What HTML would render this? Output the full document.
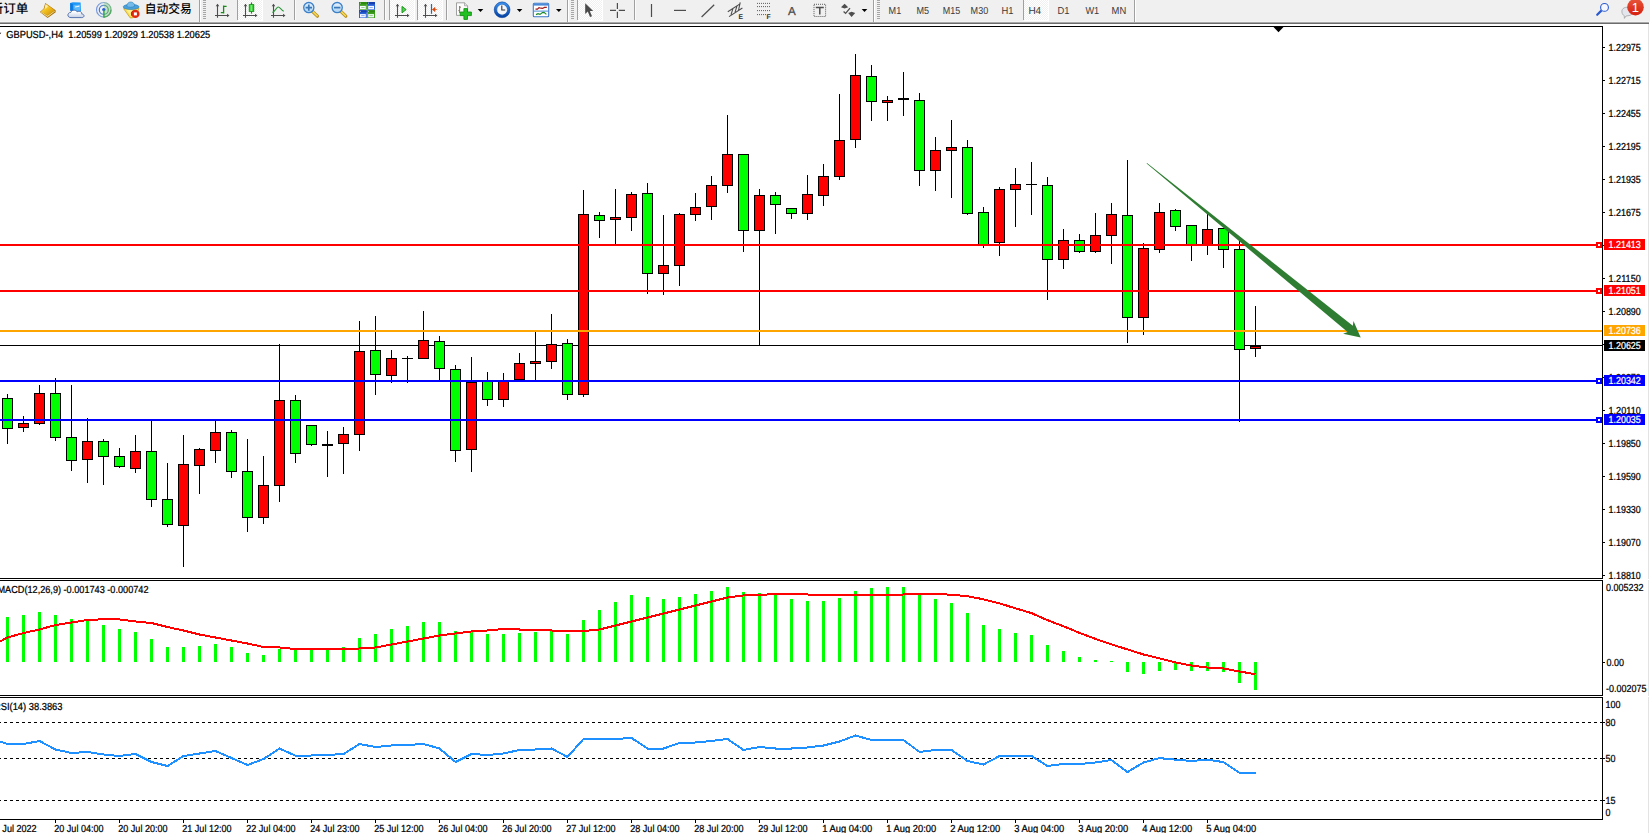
<!DOCTYPE html><html><head><meta charset="utf-8"><title>GBPUSD H4</title><style>html,body{margin:0;padding:0;background:#fff;overflow:hidden}svg text{white-space:pre}</style></head><body><svg width="1650" height="833" viewBox="0 0 1650 833" font-family="Liberation Sans, sans-serif" text-rendering="geometricPrecision" style="display:block">
<rect width="1650" height="833" fill="#fff"/>
<g shape-rendering="crispEdges">
<rect x="1648" y="24" width="1" height="809" fill="#e3e3e3"/>
<rect x="0" y="345" width="1602" height="1" fill="#000"/>
<rect x="7" y="394" width="1" height="50" fill="#000"/>
<rect x="2" y="398" width="11" height="31" fill="#000"/>
<rect x="3" y="399" width="9" height="29" fill="#00ff00"/>
<rect x="23" y="416" width="1" height="16" fill="#000"/>
<rect x="18" y="423" width="11" height="5" fill="#000"/>
<rect x="19" y="424" width="9" height="3" fill="#ff0000"/>
<rect x="39" y="385" width="1" height="40" fill="#000"/>
<rect x="34" y="393" width="11" height="31" fill="#000"/>
<rect x="35" y="394" width="9" height="29" fill="#ff0000"/>
<rect x="55" y="378" width="1" height="63" fill="#000"/>
<rect x="50" y="393" width="11" height="45" fill="#000"/>
<rect x="51" y="394" width="9" height="43" fill="#00ff00"/>
<rect x="71" y="385" width="1" height="86" fill="#000"/>
<rect x="66" y="437" width="11" height="24" fill="#000"/>
<rect x="67" y="438" width="9" height="22" fill="#00ff00"/>
<rect x="87" y="418" width="1" height="65" fill="#000"/>
<rect x="82" y="441" width="11" height="19" fill="#000"/>
<rect x="83" y="442" width="9" height="17" fill="#ff0000"/>
<rect x="103" y="439" width="1" height="46" fill="#000"/>
<rect x="98" y="441" width="11" height="16" fill="#000"/>
<rect x="99" y="442" width="9" height="14" fill="#00ff00"/>
<rect x="119" y="448" width="1" height="20" fill="#000"/>
<rect x="114" y="456" width="11" height="11" fill="#000"/>
<rect x="115" y="457" width="9" height="9" fill="#00ff00"/>
<rect x="135" y="435" width="1" height="38" fill="#000"/>
<rect x="130" y="451" width="11" height="18" fill="#000"/>
<rect x="131" y="452" width="9" height="16" fill="#ff0000"/>
<rect x="151" y="420" width="1" height="87" fill="#000"/>
<rect x="146" y="451" width="11" height="49" fill="#000"/>
<rect x="147" y="452" width="9" height="47" fill="#00ff00"/>
<rect x="167" y="463" width="1" height="64" fill="#000"/>
<rect x="162" y="499" width="11" height="26" fill="#000"/>
<rect x="163" y="500" width="9" height="24" fill="#00ff00"/>
<rect x="183" y="435" width="1" height="132" fill="#000"/>
<rect x="178" y="464" width="11" height="62" fill="#000"/>
<rect x="179" y="465" width="9" height="60" fill="#ff0000"/>
<rect x="199" y="448" width="1" height="46" fill="#000"/>
<rect x="194" y="449" width="11" height="17" fill="#000"/>
<rect x="195" y="450" width="9" height="15" fill="#ff0000"/>
<rect x="215" y="420" width="1" height="43" fill="#000"/>
<rect x="210" y="432" width="11" height="19" fill="#000"/>
<rect x="211" y="433" width="9" height="17" fill="#ff0000"/>
<rect x="231" y="430" width="1" height="48" fill="#000"/>
<rect x="226" y="432" width="11" height="40" fill="#000"/>
<rect x="227" y="433" width="9" height="38" fill="#00ff00"/>
<rect x="247" y="439" width="1" height="93" fill="#000"/>
<rect x="242" y="471" width="11" height="47" fill="#000"/>
<rect x="243" y="472" width="9" height="45" fill="#00ff00"/>
<rect x="263" y="456" width="1" height="68" fill="#000"/>
<rect x="258" y="485" width="11" height="33" fill="#000"/>
<rect x="259" y="486" width="9" height="31" fill="#ff0000"/>
<rect x="279" y="344" width="1" height="158" fill="#000"/>
<rect x="274" y="400" width="11" height="86" fill="#000"/>
<rect x="275" y="401" width="9" height="84" fill="#ff0000"/>
<rect x="295" y="395" width="1" height="68" fill="#000"/>
<rect x="290" y="400" width="11" height="54" fill="#000"/>
<rect x="291" y="401" width="9" height="52" fill="#00ff00"/>
<rect x="311" y="425" width="1" height="21" fill="#000"/>
<rect x="306" y="425" width="11" height="20" fill="#000"/>
<rect x="307" y="426" width="9" height="18" fill="#00ff00"/>
<rect x="327" y="431" width="1" height="46" fill="#000"/>
<rect x="322" y="444" width="11" height="2" fill="#000"/>
<rect x="343" y="427" width="1" height="47" fill="#000"/>
<rect x="338" y="434" width="11" height="10" fill="#000"/>
<rect x="339" y="435" width="9" height="8" fill="#ff0000"/>
<rect x="359" y="321" width="1" height="130" fill="#000"/>
<rect x="354" y="351" width="11" height="84" fill="#000"/>
<rect x="355" y="352" width="9" height="82" fill="#ff0000"/>
<rect x="375" y="316" width="1" height="79" fill="#000"/>
<rect x="370" y="350" width="11" height="25" fill="#000"/>
<rect x="371" y="351" width="9" height="23" fill="#00ff00"/>
<rect x="391" y="350" width="1" height="33" fill="#000"/>
<rect x="386" y="358" width="11" height="18" fill="#000"/>
<rect x="387" y="359" width="9" height="16" fill="#ff0000"/>
<rect x="407" y="356" width="1" height="27" fill="#000"/>
<rect x="402" y="358" width="11" height="1" fill="#000"/>
<rect x="423" y="311" width="1" height="48" fill="#000"/>
<rect x="418" y="340" width="11" height="19" fill="#000"/>
<rect x="419" y="341" width="9" height="17" fill="#ff0000"/>
<rect x="439" y="336" width="1" height="46" fill="#000"/>
<rect x="434" y="341" width="11" height="28" fill="#000"/>
<rect x="435" y="342" width="9" height="26" fill="#00ff00"/>
<rect x="455" y="365" width="1" height="97" fill="#000"/>
<rect x="450" y="369" width="11" height="82" fill="#000"/>
<rect x="451" y="370" width="9" height="80" fill="#00ff00"/>
<rect x="471" y="357" width="1" height="115" fill="#000"/>
<rect x="466" y="382" width="11" height="68" fill="#000"/>
<rect x="467" y="383" width="9" height="66" fill="#ff0000"/>
<rect x="487" y="372" width="1" height="34" fill="#000"/>
<rect x="482" y="381" width="11" height="19" fill="#000"/>
<rect x="483" y="382" width="9" height="17" fill="#00ff00"/>
<rect x="503" y="373" width="1" height="34" fill="#000"/>
<rect x="498" y="381" width="11" height="19" fill="#000"/>
<rect x="499" y="382" width="9" height="17" fill="#ff0000"/>
<rect x="519" y="353" width="1" height="27" fill="#000"/>
<rect x="514" y="363" width="11" height="17" fill="#000"/>
<rect x="515" y="364" width="9" height="15" fill="#ff0000"/>
<rect x="535" y="332" width="1" height="49" fill="#000"/>
<rect x="530" y="361" width="11" height="3" fill="#000"/>
<rect x="531" y="362" width="9" height="1" fill="#ff0000"/>
<rect x="551" y="314" width="1" height="55" fill="#000"/>
<rect x="546" y="344" width="11" height="18" fill="#000"/>
<rect x="547" y="345" width="9" height="16" fill="#ff0000"/>
<rect x="567" y="339" width="1" height="61" fill="#000"/>
<rect x="562" y="343" width="11" height="52" fill="#000"/>
<rect x="563" y="344" width="9" height="50" fill="#00ff00"/>
<rect x="583" y="190" width="1" height="207" fill="#000"/>
<rect x="578" y="214" width="11" height="181" fill="#000"/>
<rect x="579" y="215" width="9" height="179" fill="#ff0000"/>
<rect x="599" y="212" width="1" height="26" fill="#000"/>
<rect x="594" y="215" width="11" height="6" fill="#000"/>
<rect x="595" y="216" width="9" height="4" fill="#00ff00"/>
<rect x="615" y="189" width="1" height="55" fill="#000"/>
<rect x="610" y="217" width="11" height="3" fill="#000"/>
<rect x="611" y="218" width="9" height="1" fill="#ff0000"/>
<rect x="631" y="192" width="1" height="39" fill="#000"/>
<rect x="626" y="194" width="11" height="24" fill="#000"/>
<rect x="627" y="195" width="9" height="22" fill="#ff0000"/>
<rect x="647" y="183" width="1" height="111" fill="#000"/>
<rect x="642" y="193" width="11" height="81" fill="#000"/>
<rect x="643" y="194" width="9" height="79" fill="#00ff00"/>
<rect x="663" y="215" width="1" height="80" fill="#000"/>
<rect x="658" y="265" width="11" height="9" fill="#000"/>
<rect x="659" y="266" width="9" height="7" fill="#ff0000"/>
<rect x="679" y="213" width="1" height="73" fill="#000"/>
<rect x="674" y="214" width="11" height="52" fill="#000"/>
<rect x="675" y="215" width="9" height="50" fill="#ff0000"/>
<rect x="695" y="193" width="1" height="28" fill="#000"/>
<rect x="690" y="207" width="11" height="8" fill="#000"/>
<rect x="691" y="208" width="9" height="6" fill="#ff0000"/>
<rect x="711" y="176" width="1" height="44" fill="#000"/>
<rect x="706" y="185" width="11" height="22" fill="#000"/>
<rect x="707" y="186" width="9" height="20" fill="#ff0000"/>
<rect x="727" y="115" width="1" height="78" fill="#000"/>
<rect x="722" y="154" width="11" height="32" fill="#000"/>
<rect x="723" y="155" width="9" height="30" fill="#ff0000"/>
<rect x="743" y="154" width="1" height="98" fill="#000"/>
<rect x="738" y="154" width="11" height="77" fill="#000"/>
<rect x="739" y="155" width="9" height="75" fill="#00ff00"/>
<rect x="759" y="189" width="1" height="157" fill="#000"/>
<rect x="754" y="195" width="11" height="36" fill="#000"/>
<rect x="755" y="196" width="9" height="34" fill="#ff0000"/>
<rect x="775" y="192" width="1" height="42" fill="#000"/>
<rect x="770" y="195" width="11" height="10" fill="#000"/>
<rect x="771" y="196" width="9" height="8" fill="#00ff00"/>
<rect x="791" y="208" width="1" height="11" fill="#000"/>
<rect x="786" y="208" width="11" height="6" fill="#000"/>
<rect x="787" y="209" width="9" height="4" fill="#00ff00"/>
<rect x="807" y="175" width="1" height="45" fill="#000"/>
<rect x="802" y="194" width="11" height="20" fill="#000"/>
<rect x="803" y="195" width="9" height="18" fill="#ff0000"/>
<rect x="823" y="164" width="1" height="42" fill="#000"/>
<rect x="818" y="176" width="11" height="20" fill="#000"/>
<rect x="819" y="177" width="9" height="18" fill="#ff0000"/>
<rect x="839" y="94" width="1" height="86" fill="#000"/>
<rect x="834" y="140" width="11" height="37" fill="#000"/>
<rect x="835" y="141" width="9" height="35" fill="#ff0000"/>
<rect x="855" y="54" width="1" height="94" fill="#000"/>
<rect x="850" y="75" width="11" height="65" fill="#000"/>
<rect x="851" y="76" width="9" height="63" fill="#ff0000"/>
<rect x="871" y="65" width="1" height="56" fill="#000"/>
<rect x="866" y="76" width="11" height="26" fill="#000"/>
<rect x="867" y="77" width="9" height="24" fill="#00ff00"/>
<rect x="887" y="96" width="1" height="25" fill="#000"/>
<rect x="882" y="100" width="11" height="3" fill="#000"/>
<rect x="883" y="101" width="9" height="1" fill="#ff0000"/>
<rect x="903" y="72" width="1" height="44" fill="#000"/>
<rect x="898" y="98" width="11" height="2" fill="#000"/>
<rect x="919" y="93" width="1" height="93" fill="#000"/>
<rect x="914" y="100" width="11" height="71" fill="#000"/>
<rect x="915" y="101" width="9" height="69" fill="#00ff00"/>
<rect x="935" y="137" width="1" height="54" fill="#000"/>
<rect x="930" y="150" width="11" height="21" fill="#000"/>
<rect x="931" y="151" width="9" height="19" fill="#ff0000"/>
<rect x="951" y="120" width="1" height="78" fill="#000"/>
<rect x="946" y="147" width="11" height="4" fill="#000"/>
<rect x="947" y="148" width="9" height="2" fill="#ff0000"/>
<rect x="967" y="140" width="1" height="75" fill="#000"/>
<rect x="962" y="147" width="11" height="67" fill="#000"/>
<rect x="963" y="148" width="9" height="65" fill="#00ff00"/>
<rect x="983" y="207" width="1" height="41" fill="#000"/>
<rect x="978" y="212" width="11" height="34" fill="#000"/>
<rect x="979" y="213" width="9" height="32" fill="#00ff00"/>
<rect x="999" y="187" width="1" height="69" fill="#000"/>
<rect x="994" y="189" width="11" height="54" fill="#000"/>
<rect x="995" y="190" width="9" height="52" fill="#ff0000"/>
<rect x="1015" y="168" width="1" height="59" fill="#000"/>
<rect x="1010" y="184" width="11" height="6" fill="#000"/>
<rect x="1011" y="185" width="9" height="4" fill="#ff0000"/>
<rect x="1031" y="162" width="1" height="53" fill="#000"/>
<rect x="1026" y="184" width="11" height="1" fill="#000"/>
<rect x="1047" y="177" width="1" height="123" fill="#000"/>
<rect x="1042" y="185" width="11" height="75" fill="#000"/>
<rect x="1043" y="186" width="9" height="73" fill="#00ff00"/>
<rect x="1063" y="229" width="1" height="40" fill="#000"/>
<rect x="1058" y="240" width="11" height="20" fill="#000"/>
<rect x="1059" y="241" width="9" height="18" fill="#ff0000"/>
<rect x="1079" y="234" width="1" height="19" fill="#000"/>
<rect x="1074" y="240" width="11" height="12" fill="#000"/>
<rect x="1075" y="241" width="9" height="10" fill="#00ff00"/>
<rect x="1095" y="213" width="1" height="40" fill="#000"/>
<rect x="1090" y="235" width="11" height="17" fill="#000"/>
<rect x="1091" y="236" width="9" height="15" fill="#ff0000"/>
<rect x="1111" y="203" width="1" height="61" fill="#000"/>
<rect x="1106" y="214" width="11" height="22" fill="#000"/>
<rect x="1107" y="215" width="9" height="20" fill="#ff0000"/>
<rect x="1127" y="160" width="1" height="183" fill="#000"/>
<rect x="1122" y="215" width="11" height="103" fill="#000"/>
<rect x="1123" y="216" width="9" height="101" fill="#00ff00"/>
<rect x="1143" y="243" width="1" height="92" fill="#000"/>
<rect x="1138" y="248" width="11" height="70" fill="#000"/>
<rect x="1139" y="249" width="9" height="68" fill="#ff0000"/>
<rect x="1159" y="203" width="1" height="50" fill="#000"/>
<rect x="1154" y="212" width="11" height="38" fill="#000"/>
<rect x="1155" y="213" width="9" height="36" fill="#ff0000"/>
<rect x="1175" y="209" width="1" height="22" fill="#000"/>
<rect x="1170" y="210" width="11" height="17" fill="#000"/>
<rect x="1171" y="211" width="9" height="15" fill="#00ff00"/>
<rect x="1191" y="225" width="1" height="36" fill="#000"/>
<rect x="1186" y="225" width="11" height="21" fill="#000"/>
<rect x="1187" y="226" width="9" height="19" fill="#00ff00"/>
<rect x="1207" y="214" width="1" height="41" fill="#000"/>
<rect x="1202" y="229" width="11" height="17" fill="#000"/>
<rect x="1203" y="230" width="9" height="15" fill="#ff0000"/>
<rect x="1223" y="228" width="1" height="40" fill="#000"/>
<rect x="1218" y="228" width="11" height="22" fill="#000"/>
<rect x="1219" y="229" width="9" height="20" fill="#00ff00"/>
<rect x="1239" y="241" width="1" height="181" fill="#000"/>
<rect x="1234" y="249" width="11" height="101" fill="#000"/>
<rect x="1235" y="250" width="9" height="99" fill="#00ff00"/>
<rect x="1255" y="306" width="1" height="51" fill="#000"/>
<rect x="1250" y="346" width="11" height="3" fill="#000"/>
<rect x="1251" y="347" width="9" height="1" fill="#ff0000"/>
<rect x="0" y="244" width="1602" height="2" fill="#ff0000"/>
<rect x="1596" y="242" width="6" height="6" fill="#ff0000"/>
<rect x="1598" y="244" width="2" height="2" fill="#fff"/>
<rect x="0" y="290" width="1602" height="2" fill="#ff0000"/>
<rect x="1596" y="288" width="6" height="6" fill="#ff0000"/>
<rect x="1598" y="290" width="2" height="2" fill="#fff"/>
<rect x="0" y="330" width="1602" height="2" fill="#ffa500"/>
<rect x="0" y="380" width="1602" height="2" fill="#0000ff"/>
<rect x="1596" y="378" width="6" height="6" fill="#0000ff"/>
<rect x="1598" y="380" width="2" height="2" fill="#fff"/>
<rect x="0" y="419" width="1602" height="2" fill="#0000ff"/>
<rect x="1596" y="417" width="6" height="6" fill="#0000ff"/>
<rect x="1598" y="419" width="2" height="2" fill="#fff"/>
<rect x="0" y="26" width="1603" height="1" fill="#000"/>
<rect x="1602" y="26" width="1" height="794" fill="#000"/>
<rect x="0" y="578" width="1603" height="1" fill="#000"/>
<rect x="0" y="579" width="1650" height="1" fill="#fff"/>
<rect x="0" y="580" width="1603" height="1" fill="#000"/>
<rect x="0" y="695" width="1603" height="1" fill="#000"/>
<rect x="0" y="696" width="1650" height="1" fill="#fff"/>
<rect x="0" y="697" width="1603" height="1" fill="#000"/>
<rect x="0" y="819" width="1603" height="1" fill="#000"/>
</g>
<path d="M1273.5 27 L1283.5 27 L1278.5 32.3 Z" fill="#000"/>
<g shape-rendering="crispEdges">
<rect x="1603" y="47" width="2" height="1" fill="#000"/>
<rect x="1603" y="80" width="2" height="1" fill="#000"/>
<rect x="1603" y="113" width="2" height="1" fill="#000"/>
<rect x="1603" y="146" width="2" height="1" fill="#000"/>
<rect x="1603" y="179" width="2" height="1" fill="#000"/>
<rect x="1603" y="212" width="2" height="1" fill="#000"/>
<rect x="1603" y="245" width="2" height="1" fill="#000"/>
<rect x="1603" y="278" width="2" height="1" fill="#000"/>
<rect x="1603" y="311" width="2" height="1" fill="#000"/>
<rect x="1603" y="344" width="2" height="1" fill="#000"/>
<rect x="1603" y="377" width="2" height="1" fill="#000"/>
<rect x="1603" y="410" width="2" height="1" fill="#000"/>
<rect x="1603" y="443" width="2" height="1" fill="#000"/>
<rect x="1603" y="476" width="2" height="1" fill="#000"/>
<rect x="1603" y="509" width="2" height="1" fill="#000"/>
<rect x="1603" y="542" width="2" height="1" fill="#000"/>
<rect x="1603" y="575" width="2" height="1" fill="#000"/>
</g>
<text x="1608.5" y="51" font-size="10.2" fill="#000" stroke="#000" stroke-width="0.24" textLength="32.3" lengthAdjust="spacingAndGlyphs" >1.22975</text>
<text x="1608.5" y="84" font-size="10.2" fill="#000" stroke="#000" stroke-width="0.24" textLength="32.3" lengthAdjust="spacingAndGlyphs" >1.22715</text>
<text x="1608.5" y="117" font-size="10.2" fill="#000" stroke="#000" stroke-width="0.24" textLength="32.3" lengthAdjust="spacingAndGlyphs" >1.22455</text>
<text x="1608.5" y="150" font-size="10.2" fill="#000" stroke="#000" stroke-width="0.24" textLength="32.3" lengthAdjust="spacingAndGlyphs" >1.22195</text>
<text x="1608.5" y="183" font-size="10.2" fill="#000" stroke="#000" stroke-width="0.24" textLength="32.3" lengthAdjust="spacingAndGlyphs" >1.21935</text>
<text x="1608.5" y="216" font-size="10.2" fill="#000" stroke="#000" stroke-width="0.24" textLength="32.3" lengthAdjust="spacingAndGlyphs" >1.21675</text>
<text x="1608.5" y="249" font-size="10.2" fill="#000" stroke="#000" stroke-width="0.24" textLength="32.3" lengthAdjust="spacingAndGlyphs" >1.21415</text>
<text x="1608.5" y="282" font-size="10.2" fill="#000" stroke="#000" stroke-width="0.24" textLength="32.3" lengthAdjust="spacingAndGlyphs" >1.21150</text>
<text x="1608.5" y="315" font-size="10.2" fill="#000" stroke="#000" stroke-width="0.24" textLength="32.3" lengthAdjust="spacingAndGlyphs" >1.20890</text>
<text x="1608.5" y="348" font-size="10.2" fill="#000" stroke="#000" stroke-width="0.24" textLength="32.3" lengthAdjust="spacingAndGlyphs" >1.20630</text>
<text x="1608.5" y="381" font-size="10.2" fill="#000" stroke="#000" stroke-width="0.24" textLength="32.3" lengthAdjust="spacingAndGlyphs" >1.20370</text>
<text x="1608.5" y="414" font-size="10.2" fill="#000" stroke="#000" stroke-width="0.24" textLength="32.3" lengthAdjust="spacingAndGlyphs" >1.20110</text>
<text x="1608.5" y="447" font-size="10.2" fill="#000" stroke="#000" stroke-width="0.24" textLength="32.3" lengthAdjust="spacingAndGlyphs" >1.19850</text>
<text x="1608.5" y="480" font-size="10.2" fill="#000" stroke="#000" stroke-width="0.24" textLength="32.3" lengthAdjust="spacingAndGlyphs" >1.19590</text>
<text x="1608.5" y="513" font-size="10.2" fill="#000" stroke="#000" stroke-width="0.24" textLength="32.3" lengthAdjust="spacingAndGlyphs" >1.19330</text>
<text x="1608.5" y="546" font-size="10.2" fill="#000" stroke="#000" stroke-width="0.24" textLength="32.3" lengthAdjust="spacingAndGlyphs" >1.19070</text>
<text x="1608.5" y="579" font-size="10.2" fill="#000" stroke="#000" stroke-width="0.24" textLength="32.3" lengthAdjust="spacingAndGlyphs" >1.18810</text>
<rect x="1604" y="239" width="41" height="11" fill="#ff0000" shape-rendering="crispEdges"/>
<text x="1608.5" y="248" font-size="10.2" fill="#fff" stroke="#fff" stroke-width="0.24" textLength="32.3" lengthAdjust="spacingAndGlyphs" >1.21413</text>
<rect x="1604" y="285" width="41" height="11" fill="#ff0000" shape-rendering="crispEdges"/>
<text x="1608.5" y="294" font-size="10.2" fill="#fff" stroke="#fff" stroke-width="0.24" textLength="32.3" lengthAdjust="spacingAndGlyphs" >1.21051</text>
<rect x="1604" y="325" width="41" height="11" fill="#ffa500" shape-rendering="crispEdges"/>
<text x="1608.5" y="334" font-size="10.2" fill="#fff" stroke="#fff" stroke-width="0.24" textLength="32.3" lengthAdjust="spacingAndGlyphs" >1.20736</text>
<rect x="1604" y="340" width="41" height="11" fill="#000000" shape-rendering="crispEdges"/>
<text x="1608.5" y="349" font-size="10.2" fill="#fff" stroke="#fff" stroke-width="0.24" textLength="32.3" lengthAdjust="spacingAndGlyphs" >1.20625</text>
<rect x="1604" y="375" width="41" height="11" fill="#0000ff" shape-rendering="crispEdges"/>
<text x="1608.5" y="384" font-size="10.2" fill="#fff" stroke="#fff" stroke-width="0.24" textLength="32.3" lengthAdjust="spacingAndGlyphs" >1.20342</text>
<rect x="1604" y="414" width="41" height="11" fill="#0000ff" shape-rendering="crispEdges"/>
<text x="1608.5" y="423" font-size="10.2" fill="#fff" stroke="#fff" stroke-width="0.24" textLength="32.3" lengthAdjust="spacingAndGlyphs" >1.20035</text>
<text x="6.3" y="37.5" font-size="10.2" fill="#000" stroke="#000" stroke-width="0.24" textLength="204" lengthAdjust="spacingAndGlyphs" xml:space="preserve">GBPUSD-,H4&#160;&#160;1.20599 1.20929 1.20538 1.20625</text>
<path d="M-2 32.7 L1.3 32.7 L-0.3 34.6 Z" fill="#000"/>
<g shape-rendering="crispEdges">
<rect x="6" y="617" width="3" height="45" fill="#00ff00"/>
<rect x="22" y="615" width="3" height="47" fill="#00ff00"/>
<rect x="38" y="612" width="3" height="50" fill="#00ff00"/>
<rect x="54" y="615" width="3" height="47" fill="#00ff00"/>
<rect x="70" y="619" width="3" height="43" fill="#00ff00"/>
<rect x="86" y="621" width="3" height="41" fill="#00ff00"/>
<rect x="102" y="625" width="3" height="37" fill="#00ff00"/>
<rect x="118" y="629" width="3" height="33" fill="#00ff00"/>
<rect x="134" y="632" width="3" height="30" fill="#00ff00"/>
<rect x="150" y="639" width="3" height="23" fill="#00ff00"/>
<rect x="166" y="647" width="3" height="15" fill="#00ff00"/>
<rect x="182" y="647" width="3" height="15" fill="#00ff00"/>
<rect x="198" y="646" width="3" height="16" fill="#00ff00"/>
<rect x="214" y="644" width="3" height="18" fill="#00ff00"/>
<rect x="230" y="647" width="3" height="15" fill="#00ff00"/>
<rect x="246" y="653" width="3" height="9" fill="#00ff00"/>
<rect x="262" y="655" width="3" height="7" fill="#00ff00"/>
<rect x="278" y="649" width="3" height="13" fill="#00ff00"/>
<rect x="294" y="650" width="3" height="12" fill="#00ff00"/>
<rect x="310" y="650" width="3" height="12" fill="#00ff00"/>
<rect x="326" y="650" width="3" height="12" fill="#00ff00"/>
<rect x="342" y="647" width="3" height="15" fill="#00ff00"/>
<rect x="358" y="638" width="3" height="24" fill="#00ff00"/>
<rect x="374" y="634" width="3" height="28" fill="#00ff00"/>
<rect x="390" y="629" width="3" height="33" fill="#00ff00"/>
<rect x="406" y="626" width="3" height="36" fill="#00ff00"/>
<rect x="422" y="622" width="3" height="40" fill="#00ff00"/>
<rect x="438" y="622" width="3" height="40" fill="#00ff00"/>
<rect x="454" y="631" width="3" height="31" fill="#00ff00"/>
<rect x="470" y="632" width="3" height="30" fill="#00ff00"/>
<rect x="486" y="634" width="3" height="28" fill="#00ff00"/>
<rect x="502" y="634" width="3" height="28" fill="#00ff00"/>
<rect x="518" y="633" width="3" height="29" fill="#00ff00"/>
<rect x="534" y="632" width="3" height="30" fill="#00ff00"/>
<rect x="550" y="631" width="3" height="31" fill="#00ff00"/>
<rect x="566" y="634" width="3" height="28" fill="#00ff00"/>
<rect x="582" y="620" width="3" height="42" fill="#00ff00"/>
<rect x="598" y="610" width="3" height="52" fill="#00ff00"/>
<rect x="614" y="602" width="3" height="60" fill="#00ff00"/>
<rect x="630" y="595" width="3" height="67" fill="#00ff00"/>
<rect x="646" y="597" width="3" height="65" fill="#00ff00"/>
<rect x="662" y="599" width="3" height="63" fill="#00ff00"/>
<rect x="678" y="597" width="3" height="65" fill="#00ff00"/>
<rect x="694" y="594" width="3" height="68" fill="#00ff00"/>
<rect x="710" y="591" width="3" height="71" fill="#00ff00"/>
<rect x="726" y="587" width="3" height="75" fill="#00ff00"/>
<rect x="742" y="592" width="3" height="70" fill="#00ff00"/>
<rect x="758" y="593" width="3" height="69" fill="#00ff00"/>
<rect x="774" y="595" width="3" height="67" fill="#00ff00"/>
<rect x="790" y="599" width="3" height="63" fill="#00ff00"/>
<rect x="806" y="601" width="3" height="61" fill="#00ff00"/>
<rect x="822" y="601" width="3" height="61" fill="#00ff00"/>
<rect x="838" y="598" width="3" height="64" fill="#00ff00"/>
<rect x="854" y="591" width="3" height="71" fill="#00ff00"/>
<rect x="870" y="588" width="3" height="74" fill="#00ff00"/>
<rect x="886" y="587" width="3" height="75" fill="#00ff00"/>
<rect x="902" y="587" width="3" height="75" fill="#00ff00"/>
<rect x="918" y="595" width="3" height="67" fill="#00ff00"/>
<rect x="934" y="599" width="3" height="63" fill="#00ff00"/>
<rect x="950" y="603" width="3" height="59" fill="#00ff00"/>
<rect x="966" y="613" width="3" height="49" fill="#00ff00"/>
<rect x="982" y="625" width="3" height="37" fill="#00ff00"/>
<rect x="998" y="629" width="3" height="33" fill="#00ff00"/>
<rect x="1014" y="633" width="3" height="29" fill="#00ff00"/>
<rect x="1030" y="635" width="3" height="27" fill="#00ff00"/>
<rect x="1046" y="645" width="3" height="17" fill="#00ff00"/>
<rect x="1062" y="651" width="3" height="11" fill="#00ff00"/>
<rect x="1078" y="657" width="3" height="5" fill="#00ff00"/>
<rect x="1094" y="660" width="3" height="2" fill="#00ff00"/>
<rect x="1110" y="661" width="3" height="1" fill="#00ff00"/>
<rect x="1126" y="662" width="3" height="10" fill="#00ff00"/>
<rect x="1142" y="662" width="3" height="12" fill="#00ff00"/>
<rect x="1158" y="662" width="3" height="9" fill="#00ff00"/>
<rect x="1174" y="662" width="3" height="8" fill="#00ff00"/>
<rect x="1190" y="662" width="3" height="9" fill="#00ff00"/>
<rect x="1206" y="662" width="3" height="9" fill="#00ff00"/>
<rect x="1222" y="662" width="3" height="10" fill="#00ff00"/>
<rect x="1238" y="662" width="3" height="21" fill="#00ff00"/>
<rect x="1254" y="662" width="3" height="28" fill="#00ff00"/>
<polyline points="-8.5,645 0.5,641.25 7.5,637.5 23.5,633 39.5,629.5 55.5,625 71.5,622.5 87.5,620 103.5,619.25 119.5,619.5 135.5,621.5 151.5,623 167.5,627 183.5,630.5 199.5,634.5 215.5,637.5 231.5,640.5 247.5,643.5 263.5,647 279.5,647.5 295.5,649 311.5,649 327.5,649 343.5,649 359.5,648.5 375.5,647.5 391.5,644.5 407.5,641.5 423.5,638.5 439.5,635.5 455.5,633.5 471.5,631.5 487.5,630.5 503.5,629 519.5,629.5 535.5,629.5 551.5,630.5 567.5,631 583.5,631 599.5,629.5 615.5,625.5 631.5,621.5 647.5,617.5 663.5,613.5 679.5,609.5 695.5,605.5 711.5,601.5 727.5,597.5 743.5,595.5 759.5,595 775.5,594 791.5,594 807.5,594.5 823.5,595 839.5,595 855.5,595 871.5,595 887.5,595 903.5,594.5 919.5,594 935.5,594 951.5,594.7 967.5,596.2 983.5,599.3 999.5,603.4 1015.5,608.3 1031.5,613.1 1047.5,620.2 1063.5,626.2 1079.5,632.9 1095.5,638.9 1111.5,644.4 1127.5,649.4 1143.5,654.5 1159.5,658.4 1175.5,662.4 1191.5,665.5 1207.5,667.6 1223.5,668.5 1239.5,671.5 1255.5,674.2" fill="none" stroke="#ff0000" stroke-width="2"/>
<rect x="1603" y="662" width="2" height="1" fill="#000"/>
</g>
<text x="-2.5" y="593" font-size="10.2" fill="#000" stroke="#000" stroke-width="0.24" textLength="151" lengthAdjust="spacingAndGlyphs" >MACD(12,26,9) -0.001743 -0.000742</text>
<text x="1606" y="591.2" font-size="10.2" fill="#000" stroke="#000" stroke-width="0.24" textLength="37.5" lengthAdjust="spacingAndGlyphs" >0.005232</text>
<text x="1606.4" y="666" font-size="10.2" fill="#000" stroke="#000" stroke-width="0.24" textLength="17.5" lengthAdjust="spacingAndGlyphs" >0.00</text>
<text x="1606" y="692" font-size="10.2" fill="#000" stroke="#000" stroke-width="0.24" textLength="40.5" lengthAdjust="spacingAndGlyphs" >-0.002075</text>
<g shape-rendering="crispEdges">
<line x1="-2" y1="722.5" x2="1602" y2="722.5" stroke="#000" stroke-width="1" stroke-dasharray="3 3"/>
<line x1="-2" y1="758.5" x2="1602" y2="758.5" stroke="#000" stroke-width="1" stroke-dasharray="3 3"/>
<line x1="-2" y1="800.5" x2="1602" y2="800.5" stroke="#000" stroke-width="1" stroke-dasharray="3 3"/>
<polyline points="-8.5,739 7.5,744 23.5,744 39.5,741 55.5,749.5 71.5,753 87.5,752 103.5,754.5 119.5,756 135.5,754 151.5,762 167.5,766 183.5,756 199.5,753.5 215.5,751 231.5,758 247.5,765 263.5,759 279.5,748.5 295.5,755.75 311.5,755.5 327.5,755 343.5,754 359.5,744 375.5,747 391.5,745.5 407.5,745 423.5,744 439.5,748.5 455.5,762 471.5,754 487.5,755 503.5,753.5 519.5,750 535.5,749.5 551.5,748.5 567.5,757 583.5,739 599.5,739 615.5,739 631.5,738 647.5,748.5 663.5,748.5 679.5,743 695.5,742.5 711.5,741 727.5,739 743.5,750 759.5,747 775.5,748.5 791.5,748.5 807.5,747.5 823.5,745.5 839.5,741.5 855.5,735.5 871.5,740 887.5,740 903.5,740 919.5,752 935.5,750 951.5,750 967.5,761 983.5,764.5 999.5,756 1015.5,756 1031.5,756 1047.5,766 1063.5,764 1079.5,764 1095.5,762.5 1111.5,760 1127.5,772 1143.5,762.5 1159.5,758.1 1175.5,759.7 1191.5,760.9 1207.5,759.7 1223.5,762.1 1239.5,772.8 1255.5,772.8" fill="none" stroke="#1e90ff" stroke-width="2"/>
<rect x="1603" y="722" width="2" height="1" fill="#000"/>
<rect x="1603" y="758" width="2" height="1" fill="#000"/>
<rect x="1603" y="800" width="2" height="1" fill="#000"/>
</g>
<text x="-6" y="710" font-size="10.2" fill="#000" stroke="#000" stroke-width="0.24" textLength="68.5" lengthAdjust="spacingAndGlyphs" >RSI(14) 38.3863</text>
<text x="1605.5" y="708" font-size="10.2" fill="#000" stroke="#000" stroke-width="0.24" textLength="15" lengthAdjust="spacingAndGlyphs" >100</text>
<text x="1605.5" y="726" font-size="10.2" fill="#000" stroke="#000" stroke-width="0.24" textLength="10" lengthAdjust="spacingAndGlyphs" >80</text>
<text x="1605.5" y="762" font-size="10.2" fill="#000" stroke="#000" stroke-width="0.24" textLength="10" lengthAdjust="spacingAndGlyphs" >50</text>
<text x="1605.5" y="804" font-size="10.2" fill="#000" stroke="#000" stroke-width="0.24" textLength="10" lengthAdjust="spacingAndGlyphs" >15</text>
<text x="1605.5" y="816" font-size="10.2" fill="#000" stroke="#000" stroke-width="0.24" textLength="5" lengthAdjust="spacingAndGlyphs" >0</text>
<g shape-rendering="crispEdges">
<rect x="-9" y="820" width="1" height="3" fill="#000"/>
<rect x="55" y="820" width="1" height="3" fill="#000"/>
<rect x="119" y="820" width="1" height="3" fill="#000"/>
<rect x="183" y="820" width="1" height="3" fill="#000"/>
<rect x="247" y="820" width="1" height="3" fill="#000"/>
<rect x="311" y="820" width="1" height="3" fill="#000"/>
<rect x="375" y="820" width="1" height="3" fill="#000"/>
<rect x="439" y="820" width="1" height="3" fill="#000"/>
<rect x="503" y="820" width="1" height="3" fill="#000"/>
<rect x="567" y="820" width="1" height="3" fill="#000"/>
<rect x="631" y="820" width="1" height="3" fill="#000"/>
<rect x="695" y="820" width="1" height="3" fill="#000"/>
<rect x="759" y="820" width="1" height="3" fill="#000"/>
<rect x="823" y="820" width="1" height="3" fill="#000"/>
<rect x="887" y="820" width="1" height="3" fill="#000"/>
<rect x="951" y="820" width="1" height="3" fill="#000"/>
<rect x="1015" y="820" width="1" height="3" fill="#000"/>
<rect x="1079" y="820" width="1" height="3" fill="#000"/>
<rect x="1143" y="820" width="1" height="3" fill="#000"/>
<rect x="1207" y="820" width="1" height="3" fill="#000"/>
</g>
<text x="-10.2" y="832" font-size="10.2" fill="#000" stroke="#000" stroke-width="0.24" textLength="46.7" lengthAdjust="spacingAndGlyphs" >19 Jul 2022</text>
<text x="54.3" y="832" font-size="10.2" fill="#000" stroke="#000" stroke-width="0.24" textLength="49.2" lengthAdjust="spacingAndGlyphs" >20 Jul 04:00</text>
<text x="118.3" y="832" font-size="10.2" fill="#000" stroke="#000" stroke-width="0.24" textLength="49.2" lengthAdjust="spacingAndGlyphs" >20 Jul 20:00</text>
<text x="182.3" y="832" font-size="10.2" fill="#000" stroke="#000" stroke-width="0.24" textLength="49.2" lengthAdjust="spacingAndGlyphs" >21 Jul 12:00</text>
<text x="246.3" y="832" font-size="10.2" fill="#000" stroke="#000" stroke-width="0.24" textLength="49.2" lengthAdjust="spacingAndGlyphs" >22 Jul 04:00</text>
<text x="310.3" y="832" font-size="10.2" fill="#000" stroke="#000" stroke-width="0.24" textLength="49.2" lengthAdjust="spacingAndGlyphs" >24 Jul 23:00</text>
<text x="374.3" y="832" font-size="10.2" fill="#000" stroke="#000" stroke-width="0.24" textLength="49.2" lengthAdjust="spacingAndGlyphs" >25 Jul 12:00</text>
<text x="438.3" y="832" font-size="10.2" fill="#000" stroke="#000" stroke-width="0.24" textLength="49.2" lengthAdjust="spacingAndGlyphs" >26 Jul 04:00</text>
<text x="502.3" y="832" font-size="10.2" fill="#000" stroke="#000" stroke-width="0.24" textLength="49.2" lengthAdjust="spacingAndGlyphs" >26 Jul 20:00</text>
<text x="566.3" y="832" font-size="10.2" fill="#000" stroke="#000" stroke-width="0.24" textLength="49.2" lengthAdjust="spacingAndGlyphs" >27 Jul 12:00</text>
<text x="630.3" y="832" font-size="10.2" fill="#000" stroke="#000" stroke-width="0.24" textLength="49.2" lengthAdjust="spacingAndGlyphs" >28 Jul 04:00</text>
<text x="694.3" y="832" font-size="10.2" fill="#000" stroke="#000" stroke-width="0.24" textLength="49.2" lengthAdjust="spacingAndGlyphs" >28 Jul 20:00</text>
<text x="758.3" y="832" font-size="10.2" fill="#000" stroke="#000" stroke-width="0.24" textLength="49.2" lengthAdjust="spacingAndGlyphs" >29 Jul 12:00</text>
<text x="822.3" y="832" font-size="10.2" fill="#000" stroke="#000" stroke-width="0.24" textLength="50" lengthAdjust="spacingAndGlyphs" >1 Aug 04:00</text>
<text x="886.3" y="832" font-size="10.2" fill="#000" stroke="#000" stroke-width="0.24" textLength="50" lengthAdjust="spacingAndGlyphs" >1 Aug 20:00</text>
<text x="950.3" y="832" font-size="10.2" fill="#000" stroke="#000" stroke-width="0.24" textLength="50" lengthAdjust="spacingAndGlyphs" >2 Aug 12:00</text>
<text x="1014.3" y="832" font-size="10.2" fill="#000" stroke="#000" stroke-width="0.24" textLength="50" lengthAdjust="spacingAndGlyphs" >3 Aug 04:00</text>
<text x="1078.3" y="832" font-size="10.2" fill="#000" stroke="#000" stroke-width="0.24" textLength="50" lengthAdjust="spacingAndGlyphs" >3 Aug 20:00</text>
<text x="1142.3" y="832" font-size="10.2" fill="#000" stroke="#000" stroke-width="0.24" textLength="50" lengthAdjust="spacingAndGlyphs" >4 Aug 12:00</text>
<text x="1206.3" y="832" font-size="10.2" fill="#000" stroke="#000" stroke-width="0.24" textLength="50" lengthAdjust="spacingAndGlyphs" >5 Aug 04:00</text>
<polygon points="1147.0,163.0 1352.8,325.7 1353.5,320.9 1360.7,337.4 1343.1,333.7 1347.6,332.1 1146.6,163.4" fill="#2f7d32"/>
<g id="toolbar">
<rect x="0" y="0" width="1650" height="22" fill="#f0f0f0"/>
<rect x="0" y="21" width="1650" height="1" fill="#f4f4f4"/>
<rect x="0" y="22" width="1649" height="1" fill="#a8a8a8"/>
<rect x="0" y="23" width="1649" height="1" fill="#6c6c6c"/>
<defs>
<linearGradient id="gold" x1="0" y1="0" x2="1" y2="1"><stop offset="0" stop-color="#fff0a0"/><stop offset="0.45" stop-color="#f2c01e"/><stop offset="1" stop-color="#c8860a"/></linearGradient>
<linearGradient id="blu" x1="0" y1="0" x2="0" y2="1"><stop offset="0" stop-color="#5ab0f0"/><stop offset="1" stop-color="#1060c8"/></linearGradient>
<linearGradient id="lens" x1="0" y1="0" x2="0" y2="1"><stop offset="0" stop-color="#e8f4ff"/><stop offset="1" stop-color="#a8d0f0"/></linearGradient>
<linearGradient id="grn" x1="0" y1="0" x2="1" y2="0"><stop offset="0" stop-color="#20c020"/><stop offset="0.5" stop-color="#70f070"/><stop offset="1" stop-color="#10a010"/></linearGradient>
<linearGradient id="redb" x1="0" y1="0" x2="0" y2="1"><stop offset="0" stop-color="#e8553a"/><stop offset="1" stop-color="#d61f10"/></linearGradient>
<pattern id="chk" width="2" height="2" patternUnits="userSpaceOnUse"><rect width="2" height="2" fill="#f0f0f0"/><rect width="1" height="1" fill="#fff"/><rect x="1" y="1" width="1" height="1" fill="#fff"/></pattern>
<linearGradient id="blu2" x1="0" y1="0" x2="0" y2="1"><stop offset="0" stop-color="#3a8ce8"/><stop offset="1" stop-color="#0646a8"/></linearGradient>
</defs>
<text x="-9.4" y="13.1" font-size="12.6" font-weight="500" font-family="Liberation Sans, Noto Sans CJK SC, sans-serif" fill="#000">新订单</text>
<path d="M45.3 3 L55.6 10.2 L55.7 12.2 L47.6 18 L39.9 11.9 L43.6 8.8 Z" fill="#a8700c"/>
<path d="M45.6 3.8 L54.8 10.3 L47.5 15.6 L41 11.4 L44.4 8.6 Z" fill="url(#gold)"/>
<path d="M41 11.6 L47.5 15.8 L54.6 10.8 L54.8 11.6 L47.6 16.9 L40.8 12.2 Z" fill="#f6e08a"/>
<path d="M45.7 4.6 L48 6.2 L46 8.6 L44.6 8.4 Z" fill="#fff6c0" opacity="0.8"/>
<linearGradient id="cld" x1="0" y1="0" x2="0" y2="1"><stop offset="0.2" stop-color="#ffffff"/><stop offset="1" stop-color="#c4d0e6"/></linearGradient>
<path d="M70.2 3 L72.8 2.2 L80.6 2.6 L81 11.5 L72.6 12 L70.2 10.4 Z" fill="#1c98f6"/>
<path d="M70.2 3 L72.8 4 L72.8 12 L70.2 10.4 Z" fill="#0a78e0"/>
<path d="M73.6 5 L80.2 4.6 L80.2 10.8 L73.6 11 Z" fill="#58b8fa"/>
<path d="M75 6.4 L79.4 5.6 L79.4 6.8 L75 7.6 Z" fill="#e8f4ff"/>
<path d="M71 17.6 C66.8 17.6 67 12.6 70.8 12.4 C71.4 9.6 76.2 9.4 77.2 11.8 C79.6 10.4 82.4 12.2 81.6 14 C84.8 14 84.8 17.6 81.8 17.6 Z" fill="url(#cld)" stroke="#4a68a8" stroke-width="0.9"/>
<linearGradient id="sig" x1="0" y1="0" x2="1" y2="0"><stop offset="0" stop-color="#4a74d8"/><stop offset="0.5" stop-color="#6a98c8"/><stop offset="1" stop-color="#4ea860"/></linearGradient>
<circle cx="103.8" cy="9.8" r="7.3" fill="#e8eef4" stroke="url(#sig)" stroke-width="1.1" opacity="0.75"/>
<circle cx="103.8" cy="9.8" r="4.5" fill="#eef2f8" stroke="url(#sig)" stroke-width="1.2"/>
<path d="M103.8 9.8 L103.8 2.5 A7.3 7.3 0 0 1 103.8 17.1 Z" fill="#58b060" opacity="0.28"/>
<path d="M104 17.2 A7.3 7.3 0 0 0 111 9.8" fill="none" stroke="#5aa868" stroke-width="1.3"/>
<circle cx="103.8" cy="9.6" r="1.7" fill="#2a5fd0"/>
<rect x="103.2" y="10.2" width="1.4" height="7.4" fill="#28a838"/>
<path d="M123.6 8.6 L139 8.4 L137.6 12 L132.6 17.9 L130.2 17.9 Z" fill="#f8de58" stroke="#c49614" stroke-width="0.7"/>
<path d="M126.5 10 L133 10 L131.6 16.8 Z" fill="#fff59a" opacity="0.8"/>
<ellipse cx="131.1" cy="6.9" rx="7.9" ry="2.6" fill="#4aa0dc" stroke="#2a82b8" stroke-width="0.6"/>
<path d="M126.8 6.4 C126.6 0.6 134.8 0.6 134.6 6.2 C132.4 7.6 128.8 7.6 126.8 6.4 Z" fill="#74baea" stroke="#2a82b8" stroke-width="0.6"/>
<circle cx="135.4" cy="13.9" r="4.2" fill="#e22a10"/>
<path d="M131.6 15.6 A4.2 4.2 0 0 1 133 10.6" fill="none" stroke="#b01c08" stroke-width="0.9"/>
<rect x="133.9" y="12.4" width="3" height="3" fill="#fff"/>
<text x="144.8" y="13.3" font-size="12.2" font-weight="500" textLength="47" lengthAdjust="spacingAndGlyphs" font-family="Liberation Sans, Noto Sans CJK SC, sans-serif" fill="#000">自动交易</text>
<rect x="199" y="0" width="1" height="22" fill="#a0a0a0" shape-rendering="crispEdges"/>
<rect x="200" y="0" width="1" height="22" fill="#fff" shape-rendering="crispEdges"/>
<rect x="203" y="0" width="3" height="1" fill="#a6a6a6" shape-rendering="crispEdges"/>
<rect x="203" y="2" width="3" height="1" fill="#a6a6a6" shape-rendering="crispEdges"/>
<rect x="203" y="4" width="3" height="1" fill="#a6a6a6" shape-rendering="crispEdges"/>
<rect x="203" y="6" width="3" height="1" fill="#a6a6a6" shape-rendering="crispEdges"/>
<rect x="203" y="8" width="3" height="1" fill="#a6a6a6" shape-rendering="crispEdges"/>
<rect x="203" y="10" width="3" height="1" fill="#a6a6a6" shape-rendering="crispEdges"/>
<rect x="203" y="12" width="3" height="1" fill="#a6a6a6" shape-rendering="crispEdges"/>
<rect x="203" y="14" width="3" height="1" fill="#a6a6a6" shape-rendering="crispEdges"/>
<rect x="203" y="16" width="3" height="1" fill="#a6a6a6" shape-rendering="crispEdges"/>
<rect x="203" y="18" width="3" height="1" fill="#a6a6a6" shape-rendering="crispEdges"/>
<path d="M217.5 4.5 V17.8 M215.0 15.5 H228.5" stroke="#4d4d4d" stroke-width="1.1" fill="none"/>
<path d="M215.7 6.2 L217.5 3.7 L219.3 6.2 Z M227.0 13.8 L229.5 15.5 L227.0 17.2 Z" fill="#4d4d4d"/>
<path d="M223.6 5.6 V13.4 M223.6 6.3 H226.6 M223.6 12.6 H220.8" stroke="#1a8a1a" stroke-width="1.3" fill="none"/>
<rect x="237" y="0" width="25" height="20" fill="url(#chk)" shape-rendering="crispEdges"/>
<rect x="237" y="0" width="1" height="20" fill="#a0a0a0" shape-rendering="crispEdges"/>
<rect x="238" y="20" width="25" height="1" fill="#fff" shape-rendering="crispEdges"/>
<rect x="262" y="0" width="1" height="20" fill="#fff" shape-rendering="crispEdges"/>
<path d="M245.5 4.5 V17.8 M243.0 15.5 H256.5" stroke="#4d4d4d" stroke-width="1.1" fill="none"/>
<path d="M243.7 6.2 L245.5 3.7 L247.3 6.2 Z M255.0 13.8 L257.5 15.5 L255.0 17.2 Z" fill="#4d4d4d"/>
<path d="M251.5 2.4 V13.6" stroke="#109010" stroke-width="1.2"/>
<rect x="249.2" y="4.6" width="4.6" height="6.8" fill="url(#grn)" stroke="#109010" stroke-width="0.8"/>
<path d="M273.5 4.5 V17.8 M271.0 15.5 H284.5" stroke="#4d4d4d" stroke-width="1.1" fill="none"/>
<path d="M271.7 6.2 L273.5 3.7 L275.3 6.2 Z M283.0 13.8 L285.5 15.5 L283.0 17.2 Z" fill="#4d4d4d"/>
<path d="M272.4 12.6 C275.5 11 276.5 7 278.3 7 C280 7 281.5 10.4 283.8 11.2" stroke="#2c9a3c" stroke-width="1.1" fill="none"/>
<rect x="294" y="0" width="1" height="20" fill="#a0a0a0" shape-rendering="crispEdges"/>
<rect x="295" y="0" width="1" height="20" fill="#fbfbfb" shape-rendering="crispEdges"/>
<path d="M312.40000000000003 11.4 L317.40000000000003 16.2" stroke="#b88a18" stroke-width="3.2" stroke-linecap="round"/>
<path d="M312.6 11.4 L317.2 15.8" stroke="#f2d858" stroke-width="1.6" stroke-linecap="round"/>
<circle cx="308.8" cy="7.6" r="5.1" fill="url(#lens)" stroke="#3c80c8" stroke-width="1.3"/>
<path d="M305.6 7.6 H312.0 M308.8 4.4 V10.8" stroke="#3a78b8" stroke-width="1.7" fill="none"/>
<path d="M340.8 11.4 L345.8 16.2" stroke="#b88a18" stroke-width="3.2" stroke-linecap="round"/>
<path d="M341.0 11.4 L345.59999999999997 15.8" stroke="#f2d858" stroke-width="1.6" stroke-linecap="round"/>
<circle cx="337.2" cy="7.6" r="5.1" fill="url(#lens)" stroke="#3c80c8" stroke-width="1.3"/>
<path d="M334.0 7.6 H340.4" stroke="#3a78b8" stroke-width="1.7" fill="none"/>
<rect x="359" y="2" width="7.8" height="7.8" fill="#3ea01e"/>
<rect x="359" y="2" width="7.8" height="2.2" fill="#2c8a10"/>
<rect x="360" y="5.9" width="5.8" height="3.3" fill="#f4f8ff"/>
<rect x="361.2" y="7" width="3.4" height="0.9" fill="#3ea01e" opacity="0.55"/>
<rect x="359.9" y="2.7" width="0.9" height="0.9" fill="#fff" opacity="0.8"/>
<rect x="367.2" y="2" width="7.8" height="7.8" fill="#2c62d8"/>
<rect x="367.2" y="2" width="7.8" height="2.2" fill="#1440b0"/>
<rect x="368.2" y="5.9" width="5.8" height="3.3" fill="#f4f8ff"/>
<rect x="369.4" y="7" width="3.4" height="0.9" fill="#2c62d8" opacity="0.55"/>
<rect x="368.09999999999997" y="2.7" width="0.9" height="0.9" fill="#fff" opacity="0.8"/>
<rect x="359" y="10.2" width="7.8" height="7.8" fill="#2c62d8"/>
<rect x="359" y="10.2" width="7.8" height="2.2" fill="#1440b0"/>
<rect x="360" y="14.1" width="5.8" height="3.3" fill="#f4f8ff"/>
<rect x="361.2" y="15.2" width="3.4" height="0.9" fill="#2c62d8" opacity="0.55"/>
<rect x="359.9" y="10.899999999999999" width="0.9" height="0.9" fill="#fff" opacity="0.8"/>
<rect x="367.2" y="10.2" width="7.8" height="7.8" fill="#3ea01e"/>
<rect x="367.2" y="10.2" width="7.8" height="2.2" fill="#2c8a10"/>
<rect x="368.2" y="14.1" width="5.8" height="3.3" fill="#f4f8ff"/>
<rect x="369.4" y="15.2" width="3.4" height="0.9" fill="#3ea01e" opacity="0.55"/>
<rect x="368.09999999999997" y="10.899999999999999" width="0.9" height="0.9" fill="#fff" opacity="0.8"/>
<rect x="384" y="0" width="1" height="20" fill="#a0a0a0" shape-rendering="crispEdges"/>
<rect x="385" y="0" width="1" height="20" fill="#fbfbfb" shape-rendering="crispEdges"/>
<rect x="389" y="0" width="25" height="20" fill="url(#chk)" shape-rendering="crispEdges"/>
<rect x="389" y="0" width="1" height="20" fill="#a0a0a0" shape-rendering="crispEdges"/>
<rect x="390" y="20" width="25" height="1" fill="#fff" shape-rendering="crispEdges"/>
<rect x="414" y="0" width="1" height="20" fill="#fff" shape-rendering="crispEdges"/>
<path d="M397.5 4.5 V17.8 M395.0 15.5 H408.5" stroke="#4d4d4d" stroke-width="1.1" fill="none"/>
<path d="M395.7 6.2 L397.5 3.7 L399.3 6.2 Z M407.0 13.8 L409.5 15.5 L407.0 17.2 Z" fill="#4d4d4d"/>
<path d="M402 6.4 L406.2 9.6 L402 12.8 Z" fill="#50d050" stroke="#109010" stroke-width="0.9"/>
<rect x="417" y="0" width="25" height="20" fill="url(#chk)" shape-rendering="crispEdges"/>
<rect x="417" y="0" width="1" height="20" fill="#a0a0a0" shape-rendering="crispEdges"/>
<rect x="418" y="20" width="25" height="1" fill="#fff" shape-rendering="crispEdges"/>
<rect x="442" y="0" width="1" height="20" fill="#fff" shape-rendering="crispEdges"/>
<path d="M425.5 4.5 V17.8 M423.0 15.5 H436.5" stroke="#4d4d4d" stroke-width="1.1" fill="none"/>
<path d="M423.7 6.2 L425.5 3.7 L427.3 6.2 Z M435.0 13.8 L437.5 15.5 L435.0 17.2 Z" fill="#4d4d4d"/>
<path d="M431.5 4 V13.8" stroke="#1c6cb0" stroke-width="1.2"/>
<path d="M432.3 9.5 L435 7.5 L435 11.5 Z M434.6 9.5 H437.2" fill="#d84a10" stroke="#d84a10" stroke-width="0.7"/>
<rect x="446" y="0" width="1" height="20" fill="#a0a0a0" shape-rendering="crispEdges"/>
<rect x="447" y="0" width="1" height="20" fill="#fbfbfb" shape-rendering="crispEdges"/>
<path d="M456.5 2.8 H464.5 L467.6 5.8 V15.4 H456.5 Z" fill="#fbfbfb" stroke="#8c8c8c" stroke-width="0.8"/>
<path d="M464.5 2.8 V5.8 H467.6" fill="#e0e0e0" stroke="#8c8c8c" stroke-width="0.6"/>
<path d="M459.6 6 V13 M459.6 7.2 H461 M459.6 10.6 H458.4" stroke="#7a6a50" stroke-width="0.9" fill="none"/>
<path d="M463.9 8.6 H467.5 V12 H471.4 V15.6 H467.5 V19.4 H463.9 V15.6 H460.2 V12 H463.9 Z" fill="#22c022" stroke="#0c8a0c" stroke-width="0.8"/>
<path d="M477.7 9 H483.3 L480.5 12 Z" fill="#000"/>
<circle cx="502.1" cy="9.8" r="6.5" fill="#f4f6fa" stroke="url(#blu2)" stroke-width="3"/>
<circle cx="502.1" cy="9.8" r="7.9" fill="none" stroke="#0a3c90" stroke-width="0.5"/>
<path d="M501.8 5.6 V10 H505.2" stroke="#333" stroke-width="1.1" fill="none"/>
<g fill="#999"><rect x="501.7" y="4" width="0.8" height="0.9"/><rect x="501.7" y="14.6" width="0.8" height="0.9"/><rect x="496.5" y="9.4" width="0.9" height="0.8"/><rect x="506.9" y="9.4" width="0.9" height="0.8"/></g>
<path d="M516.8 9 H522.4 L519.5999999999999 12 Z" fill="#000"/>
<rect x="533.3" y="3.3" width="15.4" height="13.4" rx="1" fill="#fff" stroke="#3c78c8" stroke-width="1.1"/>
<rect x="533.8" y="3.6" width="14.4" height="2" fill="#4a8ad8"/>
<rect x="533.8" y="10.6" width="14.4" height="1" fill="#4a8ad8"/>
<path d="M535.5 9.2 L537.5 9.2 L539 7.6 L541 8.2 L542.6 8.4 L544.4 7.4 L546.8 7.4" stroke="#a01818" stroke-width="1.2" fill="none"/>
<path d="M536 14.6 L538 13.6 L540 14.4 L542.4 12.6 L544 12.4 L546.4 14.4" stroke="#1a8a2a" stroke-width="1.2" fill="none"/>
<path d="M556 9 H561.6 L558.8 12 Z" fill="#000"/>
<rect x="567" y="0" width="1" height="22" fill="#a0a0a0" shape-rendering="crispEdges"/>
<rect x="568" y="0" width="1" height="22" fill="#fff" shape-rendering="crispEdges"/>
<rect x="571" y="0" width="3" height="1" fill="#a6a6a6" shape-rendering="crispEdges"/>
<rect x="571" y="2" width="3" height="1" fill="#a6a6a6" shape-rendering="crispEdges"/>
<rect x="571" y="4" width="3" height="1" fill="#a6a6a6" shape-rendering="crispEdges"/>
<rect x="571" y="6" width="3" height="1" fill="#a6a6a6" shape-rendering="crispEdges"/>
<rect x="571" y="8" width="3" height="1" fill="#a6a6a6" shape-rendering="crispEdges"/>
<rect x="571" y="10" width="3" height="1" fill="#a6a6a6" shape-rendering="crispEdges"/>
<rect x="571" y="12" width="3" height="1" fill="#a6a6a6" shape-rendering="crispEdges"/>
<rect x="571" y="14" width="3" height="1" fill="#a6a6a6" shape-rendering="crispEdges"/>
<rect x="571" y="16" width="3" height="1" fill="#a6a6a6" shape-rendering="crispEdges"/>
<rect x="571" y="18" width="3" height="1" fill="#a6a6a6" shape-rendering="crispEdges"/>
<rect x="577" y="0" width="25" height="20" fill="url(#chk)" shape-rendering="crispEdges"/>
<rect x="577" y="0" width="1" height="20" fill="#a0a0a0" shape-rendering="crispEdges"/>
<rect x="578" y="20" width="25" height="1" fill="#fff" shape-rendering="crispEdges"/>
<rect x="602" y="0" width="1" height="20" fill="#fff" shape-rendering="crispEdges"/>
<path d="M585.2 3.2 L585.2 14 L587.8 11.6 L590 17 L592 16.2 L589.8 11 L593.2 11 Z" fill="#4a4a4a"/>
<path d="M617.4 3 V9 M617.4 11.8 V18 M610 10.4 H616 M618.8 10.4 H625" stroke="#4d4d4d" stroke-width="1.2" fill="none"/>
<rect x="634" y="0" width="1" height="20" fill="#a0a0a0" shape-rendering="crispEdges"/>
<rect x="635" y="0" width="1" height="20" fill="#fbfbfb" shape-rendering="crispEdges"/>
<path d="M651.5 4 V17" stroke="#4d4d4d" stroke-width="1.2"/>
<path d="M674 10.4 H686" stroke="#4d4d4d" stroke-width="1.2"/>
<path d="M701.6 17 L714.2 4.8" stroke="#4d4d4d" stroke-width="1.2"/>
<path d="M727.8 11.8 L740.4 3.6 M729 16.6 L742.4 8 M731 14.6 L733 8.4 M735 12.4 L737 5.8 M738.6 10 L740.2 2.4" stroke="#4d4d4d" stroke-width="1.1" fill="none"/>
<text x="738.6" y="18.9" font-size="6.8" font-weight="bold" fill="#333">E</text>
<path d="M757 3.4 H770.4" stroke="#4d4d4d" stroke-width="0.9" stroke-dasharray="1 1"/>
<path d="M757 6.6 H770.4" stroke="#4d4d4d" stroke-width="0.9" stroke-dasharray="1 1"/>
<path d="M757 10.6 H770.4" stroke="#4d4d4d" stroke-width="0.9" stroke-dasharray="1 1"/>
<path d="M757 14.6 H766.5" stroke="#4d4d4d" stroke-width="0.9" stroke-dasharray="1 1"/>
<text x="766.6" y="18.9" font-size="6.8" font-weight="bold" fill="#333">F</text>
<text x="787.9" y="15" font-size="11.6" fill="#4d4d4d" stroke="#4d4d4d" stroke-width="0.3">A</text>
<rect x="814" y="4.3" width="11.6" height="12.2" fill="none" stroke="#4d4d4d" stroke-width="0.9" stroke-dasharray="1 1"/>
<path d="M815.8 7.4 H823.8 M819.8 7.4 V14.6" stroke="#4d4d4d" stroke-width="1.5" fill="none"/>
<path d="M841 7.2 L844.6 3.8 L848.2 7.2 L844.6 8.5 Z M848.2 13 L851.6 16.9 L855.2 13 L851.6 11.8 Z" fill="#4d4d4d"/>
<path d="M843.6 11.6 L845.6 13.4 L850 8.2" stroke="#4d4d4d" stroke-width="1.3" fill="none"/>
<path d="M861.7 9 H867.3000000000001 L864.5 12 Z" fill="#000"/>
<rect x="873" y="0" width="1" height="22" fill="#a0a0a0" shape-rendering="crispEdges"/>
<rect x="874" y="0" width="1" height="22" fill="#fff" shape-rendering="crispEdges"/>
<rect x="877" y="0" width="3" height="1" fill="#a6a6a6" shape-rendering="crispEdges"/>
<rect x="877" y="2" width="3" height="1" fill="#a6a6a6" shape-rendering="crispEdges"/>
<rect x="877" y="4" width="3" height="1" fill="#a6a6a6" shape-rendering="crispEdges"/>
<rect x="877" y="6" width="3" height="1" fill="#a6a6a6" shape-rendering="crispEdges"/>
<rect x="877" y="8" width="3" height="1" fill="#a6a6a6" shape-rendering="crispEdges"/>
<rect x="877" y="10" width="3" height="1" fill="#a6a6a6" shape-rendering="crispEdges"/>
<rect x="877" y="12" width="3" height="1" fill="#a6a6a6" shape-rendering="crispEdges"/>
<rect x="877" y="14" width="3" height="1" fill="#a6a6a6" shape-rendering="crispEdges"/>
<rect x="877" y="16" width="3" height="1" fill="#a6a6a6" shape-rendering="crispEdges"/>
<rect x="877" y="18" width="3" height="1" fill="#a6a6a6" shape-rendering="crispEdges"/>
<text x="888.6" y="13.9" font-size="10.2" textLength="12.6" lengthAdjust="spacingAndGlyphs" fill="#3a3a3a">M1</text>
<text x="916.4" y="13.9" font-size="10.2" textLength="12.6" lengthAdjust="spacingAndGlyphs" fill="#3a3a3a">M5</text>
<text x="942.8" y="13.9" font-size="10.2" textLength="17.4" lengthAdjust="spacingAndGlyphs" fill="#3a3a3a">M15</text>
<text x="970.6" y="13.9" font-size="10.2" textLength="17.6" lengthAdjust="spacingAndGlyphs" fill="#3a3a3a">M30</text>
<text x="1001.4" y="13.9" font-size="10.2" textLength="12.0" lengthAdjust="spacingAndGlyphs" fill="#3a3a3a">H1</text>
<rect x="1023" y="0" width="25" height="20" fill="url(#chk)" shape-rendering="crispEdges"/>
<rect x="1023" y="0" width="1" height="20" fill="#a0a0a0" shape-rendering="crispEdges"/>
<rect x="1024" y="20" width="25" height="1" fill="#fff" shape-rendering="crispEdges"/>
<rect x="1048" y="0" width="1" height="20" fill="#fff" shape-rendering="crispEdges"/>
<text x="1028.4" y="13.9" font-size="10.2" textLength="12.8" lengthAdjust="spacingAndGlyphs" fill="#3a3a3a">H4</text>
<text x="1057.6" y="13.9" font-size="10.2" textLength="12.0" lengthAdjust="spacingAndGlyphs" fill="#3a3a3a">D1</text>
<text x="1085.4" y="13.9" font-size="10.2" textLength="13.8" lengthAdjust="spacingAndGlyphs" fill="#3a3a3a">W1</text>
<text x="1111.6" y="13.9" font-size="10.2" textLength="14.6" lengthAdjust="spacingAndGlyphs" fill="#3a3a3a">MN</text>
<rect x="1134" y="0" width="1" height="22" fill="#a0a0a0" shape-rendering="crispEdges"/>
<rect x="1135" y="0" width="1" height="22" fill="#fff" shape-rendering="crispEdges"/>
<path d="M1601.6 10.4 L1597.2 14.8" stroke="#2a5ad0" stroke-width="2.2" stroke-linecap="round"/>
<circle cx="1604.5" cy="7.4" r="3.9" fill="#f6f8ff" stroke="#2a5ad0" stroke-width="1.1"/>
<path d="M1622 12.4 C1621 8 1626 6.4 1630 7.6 C1634 8.6 1634.4 14.6 1629 15.6 L1626 16 L1624.4 18.4 L1624.2 15.6 C1623 15 1622.2 14 1622 12.4 Z" fill="#e4e6ee" stroke="#9a9a9a" stroke-width="0.7"/>
<circle cx="1635.5" cy="7.2" r="8.3" fill="url(#redb)"/>
<text x="1635.4" y="12" font-size="13" text-anchor="middle" fill="#fff">1</text>
</g>
</svg></body></html>
